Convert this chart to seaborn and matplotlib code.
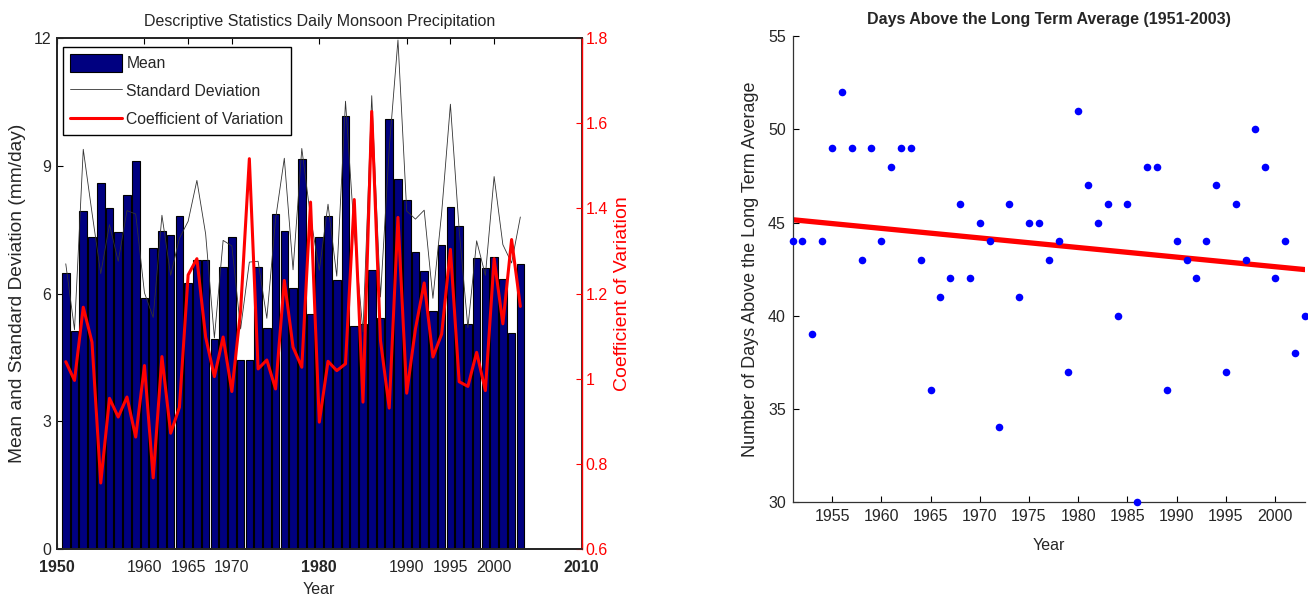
import numpy as np
import matplotlib.pyplot as plt
import seaborn as sns
from matplotlib.patches import Patch
from matplotlib.lines import Line2D

years = list(range(1951, 2004))

# daily monsoon precipitation (mm/day)
mean_precip = [6.48, 5.12, 7.93, 7.33, 8.60, 8.00, 7.44, 8.32, 9.12, 5.89,
               7.08, 7.48, 7.37, 7.82, 6.24, 6.78, 6.78, 4.94, 6.63, 7.33,
               4.45, 4.45, 6.63, 5.20, 7.86, 7.48, 6.14, 9.17, 5.51, 7.33,
               7.82, 6.31, 10.18, 5.23, 5.29, 6.56, 5.43, 10.11, 8.70, 8.21,
               6.98, 6.52, 5.60, 7.15, 8.03, 7.58, 5.29, 6.83, 6.60, 6.86,
               6.35, 5.08, 6.70]
std_precip = [6.70, 5.15, 9.39, 7.90, 6.47, 7.62, 6.76, 7.95, 7.87, 6.02,
              5.44, 7.84, 6.43, 7.30, 7.70, 8.66, 7.40, 4.96, 7.25, 7.12,
              5.17, 6.74, 6.76, 5.42, 7.75, 9.18, 6.56, 9.41, 7.80, 6.55,
              8.10, 6.41, 10.52, 7.43, 5.10, 10.65, 5.92, 9.41, 11.96, 7.94,
              7.75, 7.96, 5.89, 7.90, 10.45, 7.50, 5.20, 7.24, 6.43, 8.75,
              7.15, 6.72, 7.80]
cv_precip = [1.040, 0.996, 1.168, 1.086, 0.755, 0.954, 0.910, 0.957, 0.863, 1.031,
             0.767, 1.052, 0.872, 0.933, 1.244, 1.282, 1.098, 1.005, 1.098, 0.970,
             1.160, 1.517, 1.023, 1.044, 0.976, 1.231, 1.074, 1.027, 1.415, 0.898,
             1.041, 1.019, 1.035, 1.421, 0.945, 1.628, 1.090, 0.931, 1.379, 0.966,
             1.117, 1.225, 1.051, 1.105, 1.304, 0.993, 0.982, 1.062, 0.972, 1.282,
             1.129, 1.327, 1.170]

# days above the long term average
days_above = [44, 44, 39, 44, 49, 52, 49, 43, 49, 44,
              48, 49, 49, 43, 36, 41, 42, 46, 42, 45,
              44, 34, 46, 41, 45, 45, 43, 44, 37, 51,
              47, 45, 46, 40, 46, 30, 48, 48, 36, 44,
              43, 42, 44, 47, 37, 46, 43, 50, 48, 42,
              44, 38, 40]

x_ticks = [1950, 1960, 1965, 1970, 1980, 1990, 1995, 2000, 2010]
bold_ticks = [1950, 1980, 2010]

sns.set_theme(style='white')
plt.rcParams['font.family'] = ['Liberation Sans', 'DejaVu Sans']
plt.rcParams['xtick.direction'] = 'in'
plt.rcParams['ytick.direction'] = 'in'

fig = plt.figure(figsize=(13.08, 6.03), dpi=100)

# ---- left: descriptive statistics ----
ax = fig.add_axes([0.0436, 0.0896, 0.401, 0.847])
sns.barplot(x=years, y=mean_precip, native_scale=True, color='#000080', saturation=1,
            width=0.87, edgecolor='black', linewidth=0.8, ax=ax)
sns.lineplot(x=years, y=std_precip, color='#333333', linewidth=0.6, ax=ax)
ax.set_xlim(1950, 2010)
ax.set_ylim(0, 12)
ax.set_yticks([0, 3, 6, 9, 12])
ax.set_xticks(x_ticks)
ax.set_xticklabels([str(t) for t in x_ticks])
for lab, t in zip(ax.get_xticklabels(), x_ticks):
    if t in bold_ticks:
        lab.set_fontweight('bold')
ax.tick_params(axis='x', labelsize=11.5, pad=8, length=4, width=0.8, color='black', top=True, bottom=True)
ax.tick_params(axis='y', labelsize=11.5, pad=4, length=4, width=0.8, color='black', right=True, left=True)
for s in ax.spines.values():
    s.set_color('#222222')
    s.set_linewidth(1.3)
ax.set_xlabel('Year', fontsize=11.5, labelpad=5)
ax.set_ylabel('Mean and Standard Deviation (mm/day)', fontsize=13.8, labelpad=6)
ax.set_title('Descriptive Statistics Daily Monsoon Precipitation', fontsize=11.5, pad=9)

ax2 = ax.twinx()
sns.lineplot(x=years, y=cv_precip, color='red', linewidth=2.2, ax=ax2)
ax2.set_ylim(0.6, 1.8)
ax2.set_yticks(np.arange(0.6, 1.81, 0.2))
ax2.set_yticklabels(['%g' % round(v, 1) for v in np.arange(0.6, 1.81, 0.2)])
ax2.tick_params(axis='y', colors='red', labelsize=11.5, length=4, width=0.8, pad=3)
ax2.spines['right'].set_color('red')
ax2.spines['right'].set_linewidth(1.0)
ax2.set_ylabel('Coefficient of Variation', color='red', fontsize=14, labelpad=4)

handles = [Patch(facecolor='#000080', edgecolor='black', linewidth=0.8),
           Line2D([], [], color='#333333', linewidth=0.6),
           Line2D([], [], color='red', linewidth=2.2)]
leg = ax2.legend(handles, ['Mean', 'Standard Deviation', 'Coefficient of Variation'],
                 loc='upper left', bbox_to_anchor=(0.011, 0.982), borderaxespad=0,
                 fontsize=11.3, frameon=True, fancybox=False, framealpha=1,
                 edgecolor='black', handlelength=3.3, handleheight=1.3,
                 labelspacing=0.7, handletextpad=0.3, borderpad=0.45)
leg.get_frame().set_linewidth(1.0)

# ---- right: days above long term average ----
axr = fig.add_axes([0.606, 0.1675, 0.3915, 0.7725])
slope, icpt = np.polyfit(years, days_above, 1)
ols_fit = [slope * y + icpt for y in years]

sns.lineplot(x=years, y=ols_fit, color='#aaaaaa', linewidth=0.6, ax=axr, zorder=1)
sns.lineplot(x=years, y=ols_fit, color='red', linewidth=3.8, ax=axr, zorder=2)
sns.scatterplot(x=years, y=days_above, color='blue', s=30, linewidth=0, ax=axr, zorder=3, clip_on=False)
axr.set_xlim(1951, 2003)
axr.set_ylim(30, 55)
axr.set_xticks(range(1955, 2001, 5))
axr.set_yticks(range(30, 56, 5))
axr.tick_params(labelsize=11.5, length=4, width=0.8, color='black', pad=5, bottom=True, left=True)
sns.despine(ax=axr)
for s in ['left', 'bottom']:
    axr.spines[s].set_color('#333333')
    axr.spines[s].set_linewidth(0.9)
axr.set_xlabel('Year', fontsize=11.5, labelpad=10)
axr.set_ylabel('Number of Days Above the Long Term Average', fontsize=13, labelpad=6)
axr.set_title('Days Above the Long Term Average (1951-2003)', fontsize=11.5, fontweight='bold', pad=9)

fig.savefig('out.png', dpi=100)
